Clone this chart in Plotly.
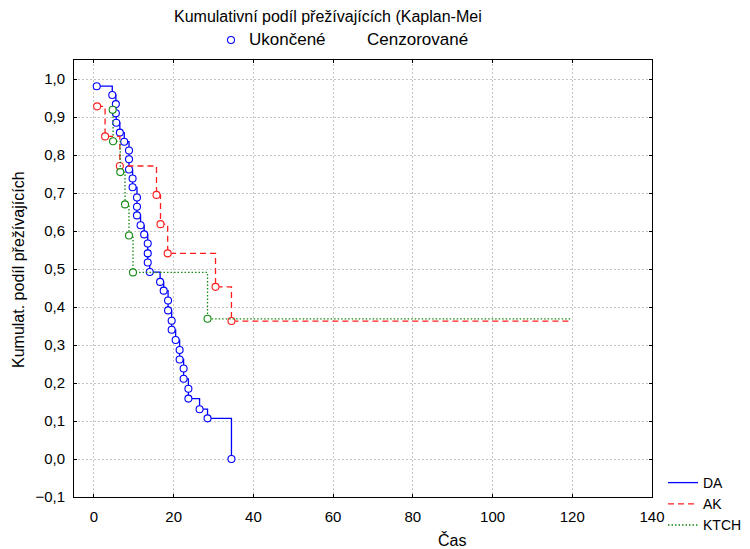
import plotly.graph_objects as go

# Kaplan-Meier survival estimates per group (time, cumulative proportion surviving)
da_time = [0.7, 4.6, 5.5, 5.5, 5.6, 6.5, 7.6, 8.8, 8.8, 8.8, 9.7, 9.7, 10.8, 10.8, 10.8,
           11.7, 12.6, 13.5, 13.5, 13.5, 14.0, 16.6, 17.5, 18.6, 18.6, 19.5, 19.5, 20.5,
           21.5, 21.5, 22.5, 22.5, 23.7, 23.7, 26.5, 28.5, 34.5]
da_surv = [0.981, 0.958, 0.934, 0.910, 0.885, 0.859, 0.835, 0.812, 0.789, 0.762, 0.738,
           0.715, 0.688, 0.664, 0.641, 0.615, 0.591, 0.567, 0.541, 0.517, 0.492, 0.466,
           0.443, 0.417, 0.391, 0.364, 0.340, 0.313, 0.287, 0.262, 0.238, 0.211, 0.185,
           0.159, 0.131, 0.107, 0.0]

ak_time = [0.8, 2.8, 6.5, 15.7, 16.7, 18.5, 30.5, 34.5]
ak_surv = [0.928, 0.849, 0.771, 0.695, 0.618, 0.541, 0.453, 0.363]
ak_last_time = 120

ktch_time = [4.7, 4.8, 6.6, 7.8, 8.8, 9.8, 28.5]
ktch_surv = [0.919, 0.836, 0.755, 0.670, 0.588, 0.491, 0.369]
ktch_last_time = 120

x_ticks = [0, 20, 40, 60, 80, 100, 120, 140]
y_ticks = [-0.1, 0.0, 0.1, 0.2, 0.3, 0.4, 0.5, 0.6, 0.7, 0.8, 0.9, 1.0]

FONT = "Liberation Sans, Arial, sans-serif"
BLUE, RED, GREEN = "#0000ff", "#ff1e1e", "#138a13"

# plot area in pixels
L, R, T, B = 74, 652, 60, 497
W, H = R - L, B - T


def px(x):
    return (x - L) / W


def py(y):
    return (B - y) / H


fig = go.Figure()


def km_group(name, t, s, color, dash, end_time=None):
    # step line (horizontal then vertical), extended to the last follow-up time
    lx, ly = list(t), list(s)
    if end_time is not None:
        lx.append(end_time)
        ly.append(s[-1])
    fig.add_trace(go.Scatter(x=lx, y=ly, mode="lines", line_shape="hv",
                             line=dict(color=color, width=1.3, dash=dash),
                             showlegend=False, hoverinfo="skip"))
    # completed observations
    fig.add_trace(go.Scatter(x=t, y=s, mode="markers", name=name,
                             marker=dict(symbol="circle", size=7, color="white",
                                         line=dict(color=color, width=1.1)),
                             showlegend=False))
    # legend entry
    fig.add_trace(go.Scatter(x=[None], y=[None], mode="lines", name=name,
                             line=dict(color=color, width=1.3, dash=dash)))


km_group("DA", da_time, da_surv, BLUE, "solid")
km_group("AK", ak_time, ak_surv, RED, "6px,4px", ak_last_time)
km_group("KTCH", ktch_time, ktch_surv, GREEN, "1.5px,2px", ktch_last_time)

axis_common = dict(showline=True, linecolor="black", linewidth=1, mirror="ticks",
                   ticks="inside", ticklen=3, tickcolor="black",
                   showgrid=True, gridcolor="#c4c4c4", griddash="2px,2px", gridwidth=1,
                   zeroline=False, tickfont=dict(family=FONT, size=15, color="black"))

fig.update_xaxes(range=[-5, 140], tickvals=x_ticks, ticklabelstandoff=6, **axis_common)
fig.update_yaxes(range=[-0.1, 1.05], tickvals=y_ticks, tickformat=".1f",
                 ticklabelstandoff=5, **axis_common)

fig.update_layout(
    width=750, height=549,
    margin=dict(l=L, r=750 - R, t=T, b=549 - B, autoexpand=False),
    paper_bgcolor="white", plot_bgcolor="white",
    separators=", ",
    font=dict(family=FONT, size=15, color="black"),
    legend=dict(x=px(663), y=py(467), xanchor="left", yanchor="top",
                font=dict(family=FONT, size=14), tracegroupgap=0,
                itemwidth=30, bgcolor="rgba(0,0,0,0)"),
    annotations=[
        dict(text="Kumulativní podíl přežívajících (Kaplan-Mei", xref="paper", yref="paper",
             x=px(172), y=py(17), xanchor="left", yanchor="middle",
             showarrow=False, font=dict(family=FONT, size=16)),
        dict(text="Ukončené", xref="paper", yref="paper",
             x=px(247), y=py(40), xanchor="left", yanchor="middle",
             showarrow=False, font=dict(family=FONT, size=17)),
        dict(text="Cenzorované", xref="paper", yref="paper",
             x=px(365), y=py(40), xanchor="left", yanchor="middle",
             showarrow=False, font=dict(family=FONT, size=17)),
        dict(text="Čas", xref="paper", yref="paper",
             x=px(452), y=py(540), xanchor="center", yanchor="middle",
             showarrow=False, font=dict(family=FONT, size=16)),
        dict(text="Kumulat. podíl přežívajících", xref="paper", yref="paper",
             x=px(18), y=py(270), xanchor="center", yanchor="middle",
             textangle=-90, showarrow=False, font=dict(family=FONT, size=16)),
    ],
    shapes=[
        dict(type="circle", xref="paper", yref="paper", xsizemode="pixel", ysizemode="pixel",
             xanchor=px(231), yanchor=py(40),
             x0=-3.5, x1=3.5, y0=-3.5, y1=3.5,
             line=dict(color=BLUE, width=1.1), fillcolor="white"),
    ],
)

fig.write_html("out.html")
